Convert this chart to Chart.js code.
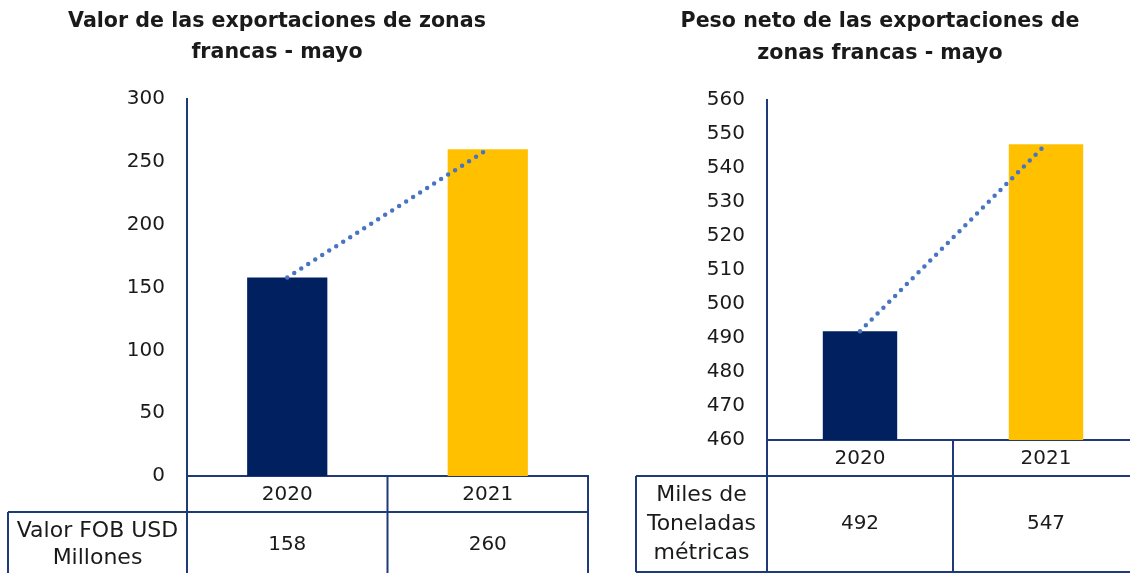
<!DOCTYPE html>
<html>
<head>
<meta charset="utf-8">
<script src="https://cdn.jsdelivr.net/npm/chart.js@4.4.0/dist/chart.umd.min.js"></script>
<style>
  html, body { margin: 0; padding: 0; background: #fff; overflow: hidden; width: 1130px; height: 573px; }
  .panel { position: absolute; top: 0; height: 573px; }
  #left { left: 0; width: 600px; }
  #right { left: 620px; width: 530px; }
</style>
</head>
<body>
<div class="panel" id="left"><canvas id="valor"></canvas></div>
<div class="panel" id="right"><canvas id="peso"></canvas></div>
<script>
// data
const categories = ['2020', '2021'];
const valorFob = [158, 260];
const pesoNeto = [492, 547];
const valorAxis = {min: 0, max: 300, step: 50};
const pesoAxis = {min: 460, max: 560, step: 10};
const valorTitle = ['Valor de las exportaciones de zonas', 'francas - mayo'];
const pesoTitle = ['Peso neto de las exportaciones de', 'zonas francas - mayo'];
const valorUnit = ['Valor FOB USD', 'Millones'];
const pesoUnit = ['Miles de', 'Toneladas', 'métricas'];

const barColors = ['#002060', '#FFC000'];
const lineColor = '#4775C2';
const borderColor = '#1F3A78';
const textColor = '#1a1a1a';
const font = 'DejaVu Sans';

// title + data table under the x axis
const tablePlugin = {
  id: 'dataTable',
  afterDraw(chart, args, opts) {
    const ctx = chart.ctx;
    const a = chart.chartArea;
    const x = chart.scales.x;
    const top = x.top, mid = x.bottom, bottom = x.bottom + opts.rowHeight;
    const step = x.getPixelForValue(1) - x.getPixelForValue(0);

    ctx.save();
    ctx.fillStyle = textColor;
    ctx.textAlign = 'center';
    ctx.textBaseline = 'middle';
    ctx.font = 'bold ' + opts.titleSize + 'px "' + font + '"';
    opts.title.forEach((t, i) => ctx.fillText(t, opts.titleX, opts.titleY + i * opts.titleGap));

    ctx.strokeStyle = borderColor;
    ctx.lineWidth = 2;
    ctx.beginPath();
    const edges = [a.left];
    chart.data.labels.forEach((l, i) => edges.push(x.getPixelForValue(i) + step / 2));
    edges.forEach(e => { ctx.moveTo(e, top); ctx.lineTo(e, bottom); });
    ctx.moveTo(opts.labelLeft, mid); ctx.lineTo(a.right, mid);
    ctx.moveTo(opts.labelLeft, bottom); ctx.lineTo(a.right, bottom);
    ctx.moveTo(opts.labelLeft, mid); ctx.lineTo(opts.labelLeft, bottom);
    ctx.stroke();

    const cy = mid + opts.textOffset;
    const lx = (opts.labelLeft + a.left) / 2;
    const n = opts.unit.length;
    ctx.font = '22px "' + font + '"';
    opts.unit.forEach((t, i) => ctx.fillText(t, lx, cy + (i - (n - 1) / 2) * opts.lineGap));
    ctx.font = '20px "' + font + '"';
    chart.data.datasets[0].data.forEach((v, i) => ctx.fillText(String(v), x.getPixelForValue(i), cy));
    ctx.restore();
  }
};

function makeChart(id, values, axis, table, padding, yWidth) {
  return new Chart(document.getElementById(id), {
    type: 'bar',
    data: {
      labels: categories,
      datasets: [{
        data: values,
        backgroundColor: barColors,
        barPercentage: 0.8,
        categoryPercentage: 0.5,
        order: 2
      }, {
        type: 'line',
        data: values,
        borderColor: lineColor,
        borderWidth: 4.5,
        borderDash: [0, 8.3],
        borderCapStyle: 'round',
        pointRadius: 0,
        fill: false,
        order: 1
      }]
    },
    options: {
      responsive: true,
      maintainAspectRatio: false,
      animation: false,
      layout: {padding: padding},
      plugins: {
        legend: {display: false},
        tooltip: {enabled: false},
        dataTable: table
      },
      scales: {
        x: {
          grid: {display: false, drawTicks: false},
          border: {display: true, color: borderColor, width: 2},
          ticks: {color: textColor, font: {family: font, size: 20}, padding: 7},
          afterFit: s => { s.height = 36; }
        },
        y: {
          min: axis.min,
          max: axis.max,
          grid: {display: false, drawTicks: false},
          border: {display: true, color: borderColor, width: 2},
          ticks: {stepSize: axis.step, color: textColor, font: {family: font, size: 20}, padding: 22},
          afterFit: s => { s.width = yWidth; }
        }
      }
    },
    plugins: [tablePlugin]
  });
}

makeChart('valor', valorFob, valorAxis, {
  title: valorTitle, titleX: 277, titleY: 22, titleGap: 31, titleSize: 20.6,
  unit: valorUnit, labelLeft: 8, rowHeight: 70, textOffset: 33, lineGap: 27
}, {top: 99, right: 12, bottom: 61, left: 0}, 187);

makeChart('peso', pesoNeto, pesoAxis, {
  title: pesoTitle, titleX: 260, titleY: 22, titleGap: 32, titleSize: 20.6,
  unit: pesoUnit, labelLeft: 16, rowHeight: 96, textOffset: 48, lineGap: 29
}, {top: 100, right: 11, bottom: 97, left: 0}, 147);
</script>
</body>
</html>
